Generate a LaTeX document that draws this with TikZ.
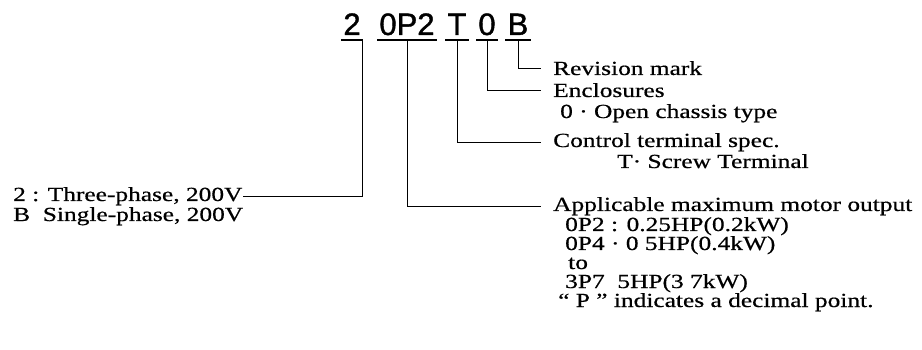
\documentclass[tikz,border=0pt]{standalone}
\usepackage{fontspec}
\usetikzlibrary{calc}
\setmainfont{Liberation Serif}[FakeStretch=1.27,FakeBold=0.6]
\newfontfamily\codefont{Liberation Sans}[FakeBold=1.2]
\begin{document}
\begin{tikzpicture}[x=1pt,y=-1pt]
    \tikzset{
        code/.style={font=\codefont\fontsize{31}{31}\selectfont, inner sep=0pt, anchor=base},
        txt/.style={font=\fontsize{20}{20}\selectfont, inner sep=0pt, anchor=base west},
        uline/.style={line width=2.8pt},
        lead/.style={line width=1pt},}
    \useasboundingbox (0,0) rectangle (922,350);
    % model number
    \node[code] (n2) at (352,35) {2};
    \node[code] (nP) at (407,35) {0P2};
    \node[code] (nT) at (457,35) {T};
    \node[code] (n0) at (487,35) {0};
    \node[code] (nB) at (518,35) {B};
    \foreach \n in {n2,nP,nT,n0,nB}
        \draw[uline] ([xshift=-2pt,yshift=-5pt]\n.base west) coordinate (\n-l)
            -- ([xshift=2pt,yshift=-5pt]\n.base east) coordinate (\n-r);
    % texts
    \node[txt] (t2a) at (13,201) {2 : Three-phase, 200V};
    \node[txt] (t2b) at (13,221) {B\ \ Single-phase, 200V};
    \node[txt] (rev) at (553,75) {Revision mark};
    \node[txt] (enc) at (553,97) {Enclosures};
    \node[txt] (enc0) at (560,118) {0 · Open chassis type};
    \node[txt] (ctl) at (553,147) {Control terminal spec.};
    \node[txt] (ctlT) at (617,168) {T· Screw Terminal};
    \node[txt] (app) at (553,211) {Applicable maximum motor output};
    \node[txt] (app1) at (565,231) {0P2 : 0.25HP(0.2kW)};
    \node[txt] (app2) at (565,250) {0P4 · 0 5HP(0.4kW)};
    \node[txt] (app3) at (568,269) {to};
    \node[txt] (app4) at (565,288) {3P7\ \ 5HP(3 7kW)};
    \node[txt] (app5) at (558,307) {“ P ” indicates a decimal point.};
    % leaders
    \draw[lead] (n2-r) |- (t2a.east);
    \draw[lead] ($(nP-l)!0.5!(nP-r)$) |- ([xshift=-12pt]app.west);
    \draw[lead] ($(nT-l)!0.5!(nT-r)$) |- ([xshift=-12pt]ctl.west);
    \draw[lead] ($(n0-l)!0.5!(n0-r)$) |- ([xshift=-12pt]enc.west);
    \draw[lead] ($(nB-l)!0.5!(nB-r)$) |- ([xshift=-12pt]rev.west);
\end{tikzpicture}
\end{document}
